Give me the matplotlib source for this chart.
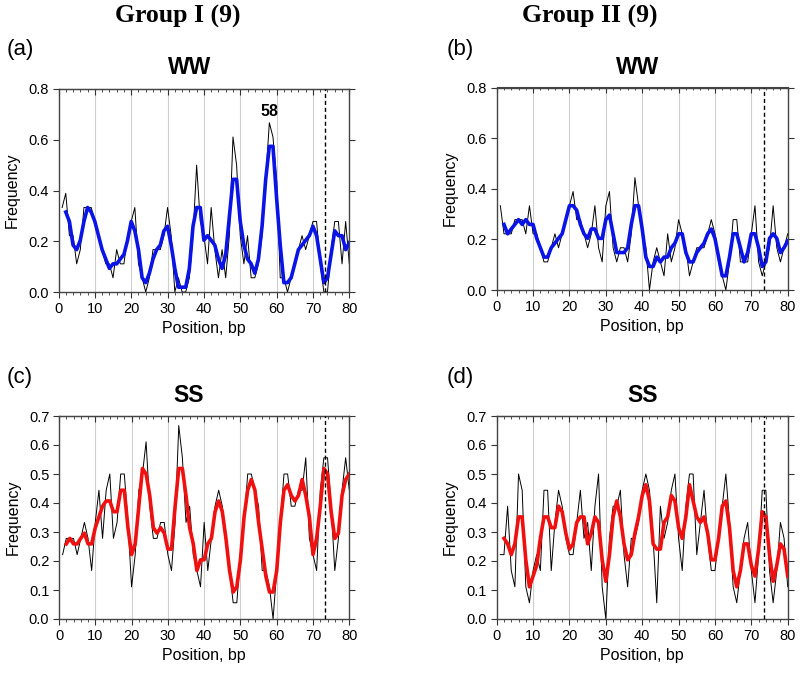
import matplotlib
matplotlib.use('Agg')
import matplotlib.pyplot as plt
import numpy as np
from matplotlib.ticker import MultipleLocator

plt.rcParams['font.family'] = ['Liberation Sans', 'DejaVu Sans']

# raw frequencies per position 1..80 and the smoothed curve from position 2..80
pos_raw = list(range(1, 81))
pos_smooth = list(range(2, 81))

ww_g1_raw = [0.333, 0.389, 0.222, 0.222, 0.111, 0.167, 0.333, 0.333, 0.333, 0.278,
             0.222, 0.167, 0.111, 0.111, 0.056, 0.167, 0.111, 0.111, 0.222, 0.278,
             0.333, 0.111, 0.056, 0.0, 0.056, 0.167, 0.167, 0.167, 0.222, 0.333,
             0.222, 0.0, 0.056, 0.0, 0.0, 0.056, 0.222, 0.5, 0.278, 0.222,
             0.111, 0.333, 0.167, 0.056, 0.167, 0.056, 0.222, 0.611, 0.5, 0.222,
             0.111, 0.222, 0.056, 0.056, 0.111, 0.222, 0.444, 0.667, 0.611, 0.444,
             0.056, 0.056, 0.0, 0.056, 0.111, 0.167, 0.222, 0.167, 0.222, 0.278,
             0.278, 0.111, 0.0, 0.0, 0.167, 0.278, 0.278, 0.111, 0.278, 0.111]
ww_g1_smooth = [0.315, 0.278, 0.185, 0.167, 0.204, 0.278, 0.333, 0.315, 0.278,
                0.222, 0.167, 0.130, 0.093, 0.111, 0.111, 0.130, 0.148, 0.204, 0.278,
                0.241, 0.167, 0.056, 0.037, 0.074, 0.130, 0.167, 0.185, 0.241, 0.259,
                0.185, 0.093, 0.019, 0.019, 0.019, 0.093, 0.259, 0.333, 0.333, 0.204,
                0.222, 0.204, 0.185, 0.130, 0.093, 0.148, 0.296, 0.444, 0.444, 0.278,
                0.185, 0.130, 0.111, 0.074, 0.130, 0.259, 0.444, 0.574, 0.574, 0.370,
                0.185, 0.037, 0.037, 0.056, 0.111, 0.167, 0.185, 0.204, 0.222, 0.259,
                0.222, 0.130, 0.037, 0.056, 0.148, 0.241, 0.222, 0.222, 0.167, 0.194]

ww_g2_raw = [0.333, 0.222, 0.222, 0.222, 0.278, 0.278, 0.278, 0.222, 0.333, 0.222,
             0.222, 0.167, 0.111, 0.111, 0.167, 0.222, 0.167, 0.222, 0.278, 0.333,
             0.389, 0.278, 0.278, 0.222, 0.167, 0.222, 0.333, 0.167, 0.111, 0.333,
             0.389, 0.167, 0.111, 0.167, 0.167, 0.111, 0.222, 0.444, 0.333, 0.222,
             0.167, 0.0, 0.111, 0.167, 0.111, 0.056, 0.222, 0.111, 0.167, 0.278,
             0.222, 0.167, 0.056, 0.111, 0.167, 0.167, 0.167, 0.222, 0.278, 0.222,
             0.111, 0.056, 0.0, 0.111, 0.278, 0.278, 0.111, 0.111, 0.111, 0.222,
             0.333, 0.111, 0.056, 0.111, 0.167, 0.333, 0.167, 0.111, 0.167, 0.222]
ww_g2_smooth = [0.259, 0.222, 0.241, 0.259, 0.278, 0.259, 0.278, 0.259, 0.259,
                0.204, 0.167, 0.130, 0.130, 0.167, 0.185, 0.204, 0.222, 0.278, 0.333,
                0.333, 0.315, 0.259, 0.222, 0.204, 0.241, 0.241, 0.204, 0.204, 0.278,
                0.296, 0.222, 0.148, 0.148, 0.148, 0.167, 0.259, 0.333, 0.333, 0.241,
                0.130, 0.093, 0.093, 0.130, 0.111, 0.130, 0.130, 0.167, 0.185, 0.222,
                0.222, 0.148, 0.111, 0.111, 0.148, 0.167, 0.185, 0.222, 0.241, 0.204,
                0.130, 0.056, 0.056, 0.130, 0.222, 0.222, 0.167, 0.111, 0.148, 0.222,
                0.222, 0.167, 0.093, 0.111, 0.204, 0.222, 0.204, 0.148, 0.167, 0.194]

ss_g1_raw = [0.222, 0.278, 0.278, 0.278, 0.222, 0.278, 0.333, 0.278, 0.167, 0.333,
             0.444, 0.278, 0.444, 0.5, 0.278, 0.333, 0.5, 0.5, 0.333, 0.111,
             0.222, 0.444, 0.5, 0.611, 0.389, 0.278, 0.278, 0.333, 0.333, 0.222,
             0.167, 0.333, 0.667, 0.556, 0.333, 0.389, 0.222, 0.167, 0.111, 0.333,
             0.167, 0.278, 0.389, 0.444, 0.389, 0.278, 0.167, 0.056, 0.056, 0.222,
             0.333, 0.5, 0.5, 0.444, 0.389, 0.167, 0.167, 0.111, 0.0, 0.167,
             0.333, 0.5, 0.5, 0.389, 0.389, 0.444, 0.444, 0.556, 0.278, 0.222,
             0.167, 0.444, 0.556, 0.556, 0.389, 0.167, 0.278, 0.444, 0.556, 0.444]
ss_g1_smooth = [0.259, 0.278, 0.259, 0.259, 0.278, 0.296, 0.259, 0.259, 0.315,
                0.352, 0.389, 0.407, 0.407, 0.370, 0.370, 0.444, 0.444, 0.315, 0.222,
                0.259, 0.389, 0.519, 0.5, 0.426, 0.315, 0.296, 0.315, 0.296, 0.241,
                0.241, 0.389, 0.519, 0.519, 0.426, 0.315, 0.259, 0.167, 0.204, 0.204,
                0.259, 0.278, 0.370, 0.407, 0.370, 0.278, 0.167, 0.093, 0.111, 0.204,
                0.352, 0.444, 0.481, 0.444, 0.333, 0.241, 0.148, 0.093, 0.093, 0.167,
                0.333, 0.444, 0.463, 0.426, 0.407, 0.426, 0.481, 0.426, 0.352, 0.222,
                0.278, 0.389, 0.519, 0.5, 0.370, 0.278, 0.296, 0.426, 0.481, 0.5]

ss_g2_raw = [0.222, 0.222, 0.389, 0.167, 0.111, 0.5, 0.444, 0.111, 0.056, 0.167,
             0.222, 0.167, 0.444, 0.444, 0.167, 0.333, 0.444, 0.389, 0.278, 0.222,
             0.222, 0.333, 0.444, 0.278, 0.333, 0.167, 0.389, 0.5, 0.111, 0.0,
             0.278, 0.389, 0.389, 0.444, 0.222, 0.111, 0.278, 0.278, 0.333, 0.444,
             0.5, 0.444, 0.278, 0.056, 0.389, 0.278, 0.333, 0.444, 0.5, 0.278,
             0.167, 0.389, 0.5, 0.5, 0.222, 0.333, 0.444, 0.278, 0.167, 0.167,
             0.278, 0.389, 0.5, 0.333, 0.111, 0.056, 0.167, 0.278, 0.333, 0.167,
             0.056, 0.222, 0.444, 0.444, 0.167, 0.056, 0.167, 0.333, 0.278, 0.111]
ss_g2_smooth = [0.278, 0.259, 0.222, 0.259, 0.352, 0.352, 0.204, 0.111, 0.148,
                0.185, 0.278, 0.352, 0.352, 0.315, 0.315, 0.389, 0.370, 0.296, 0.241,
                0.259, 0.333, 0.352, 0.352, 0.259, 0.296, 0.352, 0.333, 0.204, 0.130,
                0.222, 0.352, 0.407, 0.352, 0.259, 0.204, 0.222, 0.296, 0.352, 0.426,
                0.463, 0.407, 0.259, 0.241, 0.241, 0.333, 0.352, 0.426, 0.407, 0.315,
                0.278, 0.352, 0.463, 0.407, 0.352, 0.333, 0.352, 0.296, 0.204, 0.204,
                0.278, 0.389, 0.407, 0.315, 0.167, 0.111, 0.167, 0.259, 0.259, 0.185,
                0.148, 0.241, 0.370, 0.352, 0.222, 0.130, 0.185, 0.259, 0.241, 0.148]

marker_pos = 73.4
W, H = 800, 679


def px_box(x0, x1, ytop, ybot):
    return [x0 / W, 1 - ybot / H, (x1 - x0) / W, (ybot - ytop) / H]


def draw_panel(ax, raw, smooth, color, ymax, ystep):
    ax.set_xlim(0, 80)
    ax.set_ylim(0, ymax)
    for g in range(10, 80, 10):
        ax.axvline(g, color='#cfcfcf', lw=0.8, zorder=0)
    ax.plot(pos_raw, raw, color='black', lw=0.7, zorder=2)
    ax.plot(pos_smooth, smooth, color=color, lw=2.6, zorder=3,
            solid_joinstyle='round')
    ax.axvline(marker_pos, color='black', lw=1.0, ls=(0, (3, 2)), zorder=4)

    ax.xaxis.set_major_locator(MultipleLocator(10))
    ax.xaxis.set_minor_locator(MultipleLocator(2))
    ax.tick_params(axis='x', which='major', direction='out', length=4,
                   width=0.8, labelsize=10.5, pad=3, colors='#333333', labelcolor='black')
    ax.tick_params(axis='x', which='minor', direction='out', length=2,
                   width=0.6, colors='#333333')
    ax.tick_params(axis='y', which='major', direction='out', length=4,
                   width=0.8, labelsize=10.5, pad=3, right=True,
                   colors='#333333', labelcolor='black')
    top = ax.secondary_xaxis('top')
    top.xaxis.set_major_locator(MultipleLocator(10))
    top.xaxis.set_minor_locator(MultipleLocator(2))
    top.tick_params(which='major', direction='in', length=4, width=0.8,
                    labeltop=False, colors='#333333')
    top.tick_params(which='minor', direction='in', length=2, width=0.6,
                    colors='#333333')
    top.spines['top'].set_color('#444444')
    yt = np.arange(0, ymax + 1e-9, ystep)
    ax.set_yticks(yt)
    ax.set_yticklabels([f'{v:.1f}' for v in yt])
    for s in ax.spines.values():
        s.set_color('#444444')
        s.set_linewidth(1.0)
    ax.set_xlabel('Position, bp', fontsize=11.5, labelpad=4)
    ax.set_ylabel('Frequency', fontsize=11.5, labelpad=6)


fig = plt.figure(figsize=(W / 100, H / 100), dpi=100)

ax_a = fig.add_axes(px_box(58.5, 349.3, 89, 292))
ax_b = fig.add_axes(px_box(496.7, 787.7, 87.5, 290))
ax_c = fig.add_axes(px_box(59, 349.3, 416, 619))
ax_d = fig.add_axes(px_box(496.7, 787.7, 416, 619))

draw_panel(ax_a, ww_g1_raw, ww_g1_smooth, '#0a14e6', 0.8, 0.2)
draw_panel(ax_b, ww_g2_raw, ww_g2_smooth, '#0a14e6', 0.8, 0.2)
draw_panel(ax_c, ss_g1_raw, ss_g1_smooth, '#f01010', 0.7, 0.1)
draw_panel(ax_d, ss_g2_raw, ss_g2_smooth, '#f01010', 0.7, 0.1)

ax_a.text(58, 0.71, '58', ha='center', va='center', fontsize=11.5,
          fontweight='bold')

serif = ['Liberation Serif', 'DejaVu Serif']
fig.text(178 / W, 1 - 16 / H, 'Group I (9)', ha='center', va='center',
         fontsize=18.5, fontweight='bold', family=serif)
fig.text(590 / W, 1 - 16 / H, 'Group II (9)', ha='center', va='center',
         fontsize=18.5, fontweight='bold', family=serif)

for x, y, s in [(20, 50, '(a)'), (460, 50, '(b)'), (20, 378, '(c)'), (460, 378, '(d)')]:
    fig.text(x / W, 1 - y / H, s, ha='center', va='center', fontsize=16)

for x, y, s in [(190, 68, 'WW'), (638, 68, 'WW'), (189, 396, 'SS'), (643, 396, 'SS')]:
    fig.text(x / W, 1 - y / H, s, ha='center', va='center', fontsize=16.5,
             fontweight='bold')

fig.savefig('out.png', dpi=100)
